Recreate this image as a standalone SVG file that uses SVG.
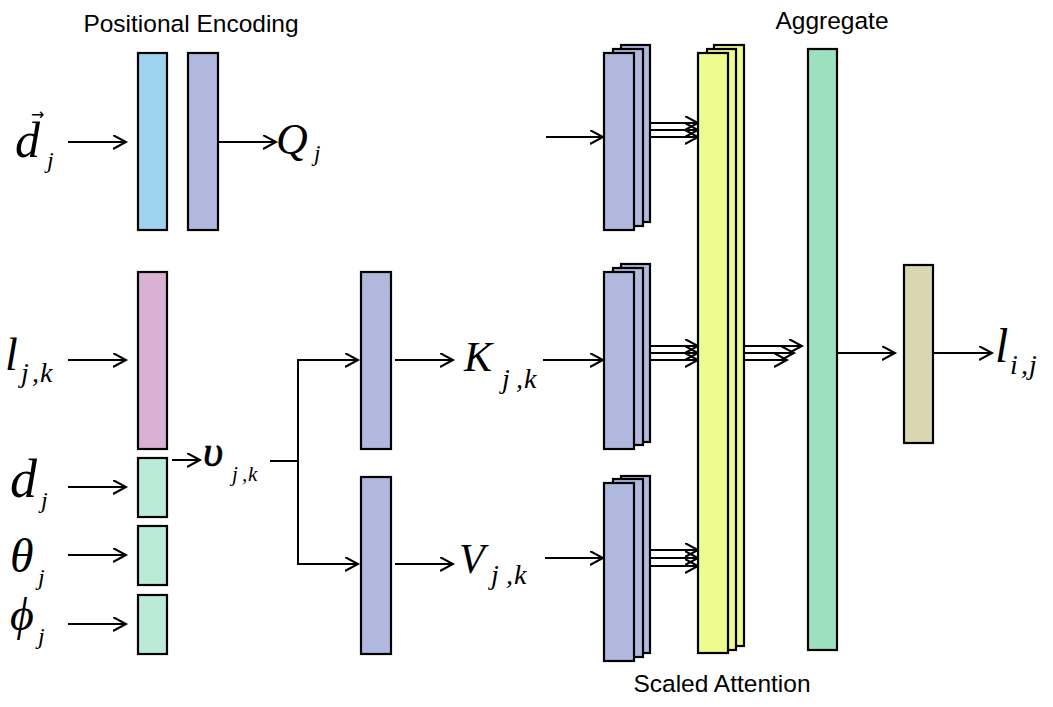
<svg xmlns="http://www.w3.org/2000/svg" width="1053" height="707" viewBox="0 0 1053 707">
<style>
.n{stroke:#000;stroke-width:2.2}
.c{stroke:#000;stroke-width:2;fill:none}
.a{marker-end:url(#ah)}
.lbl{font-family:"Liberation Sans",Arial,sans-serif;font-size:24.5px;fill:#000}
.m{font-family:"Liberation Serif","Times New Roman",serif;font-style:italic;fill:#000}
.blue{fill:#9DD3EE}.slate{fill:#B0B9DD}.pink{fill:#DAB0D5}.mint{fill:#BBEBD6}
.yel{fill:#EEFB8F}.teal{fill:#9DE0C0}.beige{fill:#DAD6B2}
</style>
<defs>
<marker id="ah" markerUnits="userSpaceOnUse" markerWidth="16" markerHeight="16" refX="13" refY="7" orient="auto">
<path d="M0,0 L13,7 L0,14" fill="none" stroke="#000" stroke-width="2"/>
</marker>
</defs>
<rect width="1053" height="707" fill="#fff"/>

<g id="connectors">
<line class="c a" x1="68" y1="142" x2="126" y2="142"/>
<line class="c a" x1="218" y1="142" x2="276" y2="142"/>
<line class="c a" x1="68" y1="360" x2="126" y2="360"/>
<line class="c a" x1="68" y1="487" x2="126" y2="487"/>
<line class="c a" x1="68" y1="555" x2="126" y2="555"/>
<line class="c a" x1="68" y1="624" x2="126" y2="624"/>
<line class="c a" x1="172" y1="460" x2="200" y2="460"/>
<polyline class="c" points="270,461 298,461"/>
<polyline class="c a" points="298,461 298,360 358,360"/>
<polyline class="c a" points="298,461 298,564 358,564"/>
<line class="c a" x1="395" y1="360" x2="453" y2="360"/>
<line class="c a" x1="395" y1="564" x2="453" y2="564"/>
<line class="c a" x1="546" y1="137" x2="603" y2="137"/>
<line class="c a" x1="543" y1="360" x2="603" y2="360"/>
<line class="c a" x1="545" y1="558" x2="603" y2="558"/>
<line class="c a" x1="634" y1="137" x2="698" y2="137"/>
<line class="c a" x1="643" y1="130" x2="698" y2="130"/>
<line class="c a" x1="650" y1="123" x2="698" y2="123"/>
<line class="c a" x1="634" y1="360" x2="698" y2="360"/>
<line class="c a" x1="643" y1="353" x2="698" y2="353"/>
<line class="c a" x1="650" y1="346" x2="698" y2="346"/>
<line class="c a" x1="634" y1="566" x2="698" y2="566"/>
<line class="c a" x1="643" y1="558" x2="698" y2="558"/>
<line class="c a" x1="650" y1="550" x2="698" y2="550"/>
<line class="c a" x1="728" y1="360" x2="787" y2="360"/>
<line class="c a" x1="736" y1="353" x2="794" y2="353"/>
<line class="c a" x1="744" y1="346" x2="802" y2="346"/>
<line class="c a" x1="837" y1="353" x2="895" y2="353"/>
<line class="c a" x1="933" y1="353" x2="992" y2="353"/>
</g>

<g id="pos-encoding"><rect class="n blue" x="138" y="53" width="29" height="177"/></g>
<g id="query-proj"><rect class="n slate" x="188" y="53" width="30" height="177"/></g>
<g id="lidar-embed"><rect class="n pink" x="138" y="272" width="29" height="177"/></g>
<g id="d-embed"><rect class="n mint" x="138" y="458" width="29" height="59"/></g>
<g id="theta-embed"><rect class="n mint" x="138" y="526" width="29" height="59"/></g>
<g id="phi-embed"><rect class="n mint" x="138" y="595" width="29" height="59"/></g>
<g id="key-proj"><rect class="n slate" x="361" y="272" width="30" height="177"/></g>
<g id="value-proj"><rect class="n slate" x="361" y="477" width="30" height="177"/></g>

<g id="q-heads">
<rect class="n slate" x="621" y="45" width="29" height="177"/>
<rect class="n slate" x="613" y="49" width="30" height="177"/>
<rect class="n slate" x="604" y="53" width="30" height="177"/>
</g>
<g id="k-heads">
<rect class="n slate" x="621" y="264" width="29" height="178"/>
<rect class="n slate" x="613" y="268" width="30" height="177"/>
<rect class="n slate" x="604" y="272" width="30" height="177"/>
</g>
<g id="v-heads">
<rect class="n slate" x="621" y="476" width="29" height="177"/>
<rect class="n slate" x="613" y="479" width="30" height="178"/>
<rect class="n slate" x="604" y="483" width="30" height="178"/>
</g>
<g id="scaled-attention">
<rect class="n yel" x="714" y="45" width="30" height="601"/>
<rect class="n yel" x="707" y="49" width="29" height="601"/>
<rect class="n yel" x="698" y="53" width="30" height="600"/>
</g>
<g id="aggregate"><rect class="n teal" x="808" y="49" width="29" height="601"/></g>
<g id="output-proj"><rect class="n beige" x="904" y="265" width="29" height="178"/></g>

<g id="labels">
<text class="lbl" x="191" y="32" text-anchor="middle">Positional Encoding</text>
<text class="lbl" x="832" y="29" text-anchor="middle">Aggregate</text>
<text class="lbl" x="722" y="692" text-anchor="middle">Scaled Attention</text>

<text class="m"><tspan x="15" y="157" font-size="50">d</tspan><tspan x="31" y="120" font-size="16" font-style="normal" font-family="DejaVu Sans, sans-serif">→</tspan><tspan x="47" y="168" font-size="24">j</tspan></text>

<text class="m" x="276" y="154" font-size="44">Q</text>
<text class="m" x="314" y="161" font-size="23">j</text>

<text class="m" x="5" y="370" font-size="46">l</text>
<text class="m" x="21 32 40" y="382" font-size="28">j,k</text>

<text class="m" x="10" y="497" font-size="54">d</text>
<text class="m" x="41" y="508" font-size="24">j</text>

<text class="m" x="10" y="572" font-size="48">θ</text>
<text class="m" x="38" y="585" font-size="24">j</text>

<text class="m" x="10" y="630" font-size="46">ϕ</text>
<text class="m" x="38" y="644" font-size="24">j</text>

<text class="m" x="203" y="466" font-size="44" stroke="#000" stroke-width="0.6">υ</text>
<text class="m" x="232 242 248" y="481" font-size="21">j,k</text>

<text class="m" x="464" y="371" font-size="42">K</text>
<text class="m" x="502 516 524" y="388" font-size="28">j,k</text>

<text class="m" x="459" y="573" font-size="42">V</text>
<text class="m" x="491 506 514" y="584" font-size="28">j,k</text>

<text class="m" x="995" y="362" font-size="48">l</text>
<text class="m" x="1010 1021 1029" y="374" font-size="28">i,j</text>
</g>
</svg>
